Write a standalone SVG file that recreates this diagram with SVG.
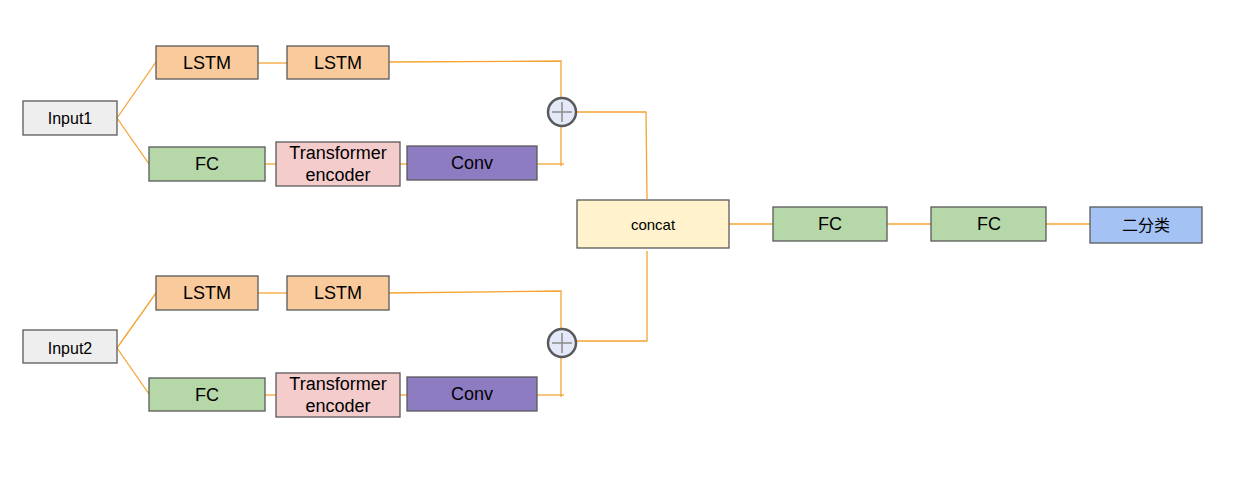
<svg xmlns="http://www.w3.org/2000/svg" width="1238" height="495" viewBox="0 0 1238 495">
<defs>
<style>
.b{stroke:#595959;stroke-width:1.3}
.in{fill:#eeeeee}.ls{fill:#f9cb9c}.fc{fill:#b6d7a8}.tr{fill:#f4cccc}.cv{fill:#8e7cc3}.cc{fill:#fff2cc}.out{fill:#a4c2f4}
text{font-family:"Liberation Sans",Arial,"Noto Sans CJK SC",sans-serif;fill:#000;text-anchor:middle;dominant-baseline:central}
.t18{font-size:18px}.t16{font-size:16px}.t15{font-size:15px}
.c line,.c polyline{stroke:#f5a332;stroke-width:1.3;fill:none}
.plus circle{fill:#e3e9f8;stroke:#595959;stroke-width:2.5}
.plus line{stroke:#8a8a8a;stroke-width:1.5}
</style>
</defs>
<rect width="1238" height="495" fill="#fff"/>
<g class="c" id="connectors">
<line x1="117" y1="118" x2="156" y2="62"/>
<line x1="117" y1="118" x2="149" y2="164"/>
<line x1="258" y1="63" x2="287" y2="63"/>
<polyline points="389,62 561,61 561,98"/>
<line x1="265" y1="164" x2="276" y2="164"/>
<line x1="400" y1="164" x2="407" y2="164"/>
<polyline points="537,164 564,164"/>
<line x1="561" y1="126" x2="561" y2="166"/>
<polyline points="577,112 646,112 647,199"/>
<line x1="117" y1="348" x2="156" y2="293"/>
<line x1="117" y1="348" x2="149" y2="394"/>
<line x1="258" y1="293" x2="287" y2="293"/>
<polyline points="389,293 561,291 561,328"/>
<line x1="265" y1="395" x2="276" y2="395"/>
<line x1="400" y1="395" x2="407" y2="395"/>
<line x1="537" y1="395" x2="564" y2="395"/>
<line x1="561" y1="358" x2="561" y2="397"/>
<polyline points="647,251 647,341 577,341"/>
<line x1="729" y1="224" x2="773" y2="224"/>
<line x1="887" y1="224" x2="931" y2="224"/>
<line x1="1046" y1="224" x2="1090" y2="224"/>
</g>
<g id="input1"><rect class="b in" x="23" y="101" width="94" height="34"/><text class="t16" x="70" y="118">Input1</text></g>
<g id="lstm1a"><rect class="b ls" x="156" y="46" width="102" height="33"/><text class="t18" x="207" y="63">LSTM</text></g>
<g id="lstm1b"><rect class="b ls" x="287" y="46" width="102" height="33"/><text class="t18" x="338" y="63">LSTM</text></g>
<g id="fc1"><rect class="b fc" x="149" y="147" width="116" height="34"/><text class="t18" x="207" y="164">FC</text></g>
<g id="trans1"><rect class="b tr" x="276" y="142" width="124" height="44"/><text class="t18" x="338" y="153">Transformer</text><text class="t18" x="338" y="175">encoder</text></g>
<g id="conv1"><rect class="b cv" x="407" y="146" width="130" height="34"/><text class="t18" x="472" y="163">Conv</text></g>
<g id="add1" class="plus"><circle cx="562" cy="112" r="14"/><line x1="552" y1="112" x2="572" y2="112"/><line x1="562" y1="102" x2="562" y2="122"/></g>
<g id="input2"><rect class="b in" x="23" y="330" width="94" height="33"/><text class="t16" x="70" y="348">Input2</text></g>
<g id="lstm2a"><rect class="b ls" x="156" y="276" width="102" height="34"/><text class="t18" x="207" y="293">LSTM</text></g>
<g id="lstm2b"><rect class="b ls" x="287" y="276" width="102" height="34"/><text class="t18" x="338" y="293">LSTM</text></g>
<g id="fc2"><rect class="b fc" x="149" y="378" width="116" height="33"/><text class="t18" x="207" y="395">FC</text></g>
<g id="trans2"><rect class="b tr" x="276" y="373" width="124" height="44"/><text class="t18" x="338" y="384">Transformer</text><text class="t18" x="338" y="406">encoder</text></g>
<g id="conv2"><rect class="b cv" x="407" y="377" width="130" height="34"/><text class="t18" x="472" y="394">Conv</text></g>
<g id="add2" class="plus"><circle cx="562" cy="343" r="14"/><line x1="552" y1="343" x2="572" y2="343"/><line x1="562" y1="333" x2="562" y2="353"/></g>
<g id="concat"><rect class="b cc" x="577" y="200" width="152" height="48"/><text class="t15" x="653" y="224">concat</text></g>
<g id="fc3"><rect class="b fc" x="773" y="207" width="114" height="34"/><text class="t18" x="830" y="224">FC</text></g>
<g id="fc4"><rect class="b fc" x="931" y="207" width="115" height="34"/><text class="t18" x="989" y="224">FC</text></g>
<g id="out"><rect class="b out" x="1090" y="207" width="112" height="36"/><text class="t16" x="1146" y="225">二分类</text></g>
</svg>
